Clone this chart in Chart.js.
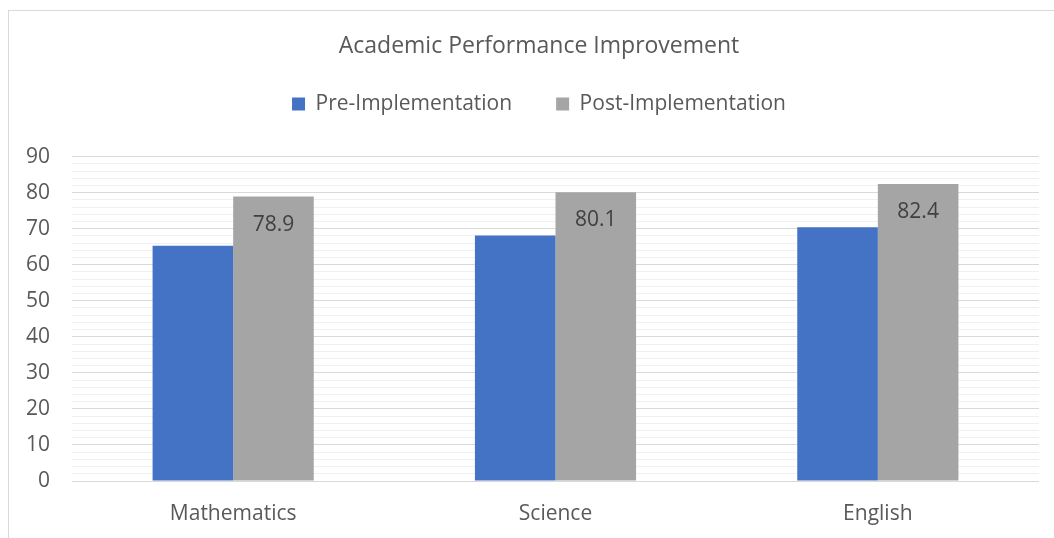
<!DOCTYPE html>
<html>
<head>
<meta charset="utf-8">
<script src="https://cdn.jsdelivr.net/npm/chart.js@4.4.0/dist/chart.umd.min.js"></script>
<style>
    html, body { margin: 0; padding: 0; background: #fff; overflow: hidden; }
    #frame { position: absolute; left: 8px; top: 10px; width: 1100px; height: 600px; border: 1px solid #d9d9d9; }
    #wrap { position: absolute; left: 0; top: 0; width: 1054px; height: 538px; }
</style>
</head>
<body>
<div id="frame"></div>
<div id="wrap"><canvas id="chart"></canvas></div>
<script>
// data
const subjects = ['Mathematics', 'Science', 'English'];
const preScores = [65.3, 68.1, 70.4];
const postScores = [78.9, 80.1, 82.4];
const seriesNames = ['Pre-Implementation', 'Post-Implementation'];

const textGray = '#595959';
const fontFamily = '"Open Sans", sans-serif';

// labels inside the top of the post bars
const postLabels = {
    id: 'postLabels',
    afterDatasetsDraw(chart) {
        const ctx = chart.ctx;
        const meta = chart.getDatasetMeta(1);
        ctx.save();
        ctx.font = '21px ' + fontFamily;
        ctx.fillStyle = '#404040';
        ctx.textAlign = 'center';
        ctx.textBaseline = 'middle';
        meta.data.forEach((bar, i) => {
            ctx.fillText(postScores[i].toFixed(1), bar.x, bar.y + 28);
        });
        ctx.restore();
    }
};

// extra room between the legend and the plot
const legendGap = {
    id: 'legendGap',
    afterInit(chart) {
        const legend = chart.legend;
        if (!legend) return;
        const fit = legend.fit.bind(legend);
        legend.fit = function() {
            fit();
            this.height += 32;
        };
    }
};

new Chart(document.getElementById('chart'), {
    type: 'bar',
    data: {
        labels: subjects,
        datasets: [{
            label: seriesNames[0],
            data: preScores,
            backgroundColor: '#4472C4',
            categoryPercentage: 0.5,
            barPercentage: 1.0
        }, {
            label: seriesNames[1],
            data: postScores,
            backgroundColor: '#A5A5A5',
            categoryPercentage: 0.5,
            barPercentage: 1.0
        }]
    },
    options: {
        responsive: true,
        maintainAspectRatio: false,
        animation: false,
        layout: { padding: { left: 39, right: 15, top: 0, bottom: 0 } },
        plugins: {
            title: {
                display: true,
                text: 'Academic Performance Improvement',
                color: textGray,
                font: { family: fontFamily, size: 23, weight: 'normal' },
                padding: { top: 33, bottom: -11 }
            },
            legend: {
                labels: {
                    color: textGray,
                    font: { family: fontFamily, size: 21 },
                    boxWidth: 13,
                    boxHeight: 13,
                    padding: 44
                }
            },
            tooltip: { enabled: false }
        },
        scales: {
            x: {
                afterFit(scale) { scale.height = 57; },
                grid: { display: false, drawTicks: false },
                border: { display: false },
                ticks: {
                    color: textGray,
                    font: { family: fontFamily, size: 21 },
                    padding: 20
                }
            },
            y: {
                min: 0,
                max: 90,
                afterFit(scale) {
                    scale.width = 33;
                    // tick labels sit left of the padded area, so don't clip them
                    scale._computeLabelArea = () => undefined;
                },
                border: { display: false },
                grid: {
                    drawTicks: false,
                    color: c => (c.tick && c.tick.value % 10 === 0) ? '#d9d9d9' : '#f0f0f0',
                    lineWidth: 1
                },
                ticks: {
                    stepSize: 2,
                    autoSkip: false,
                    padding: 22,
                    color: textGray,
                    font: { family: fontFamily, size: 21 },
                    callback: v => v % 10 === 0 ? v : ''
                }
            }
        }
    },
    plugins: [postLabels, legendGap]
});
</script>
</body>
</html>
